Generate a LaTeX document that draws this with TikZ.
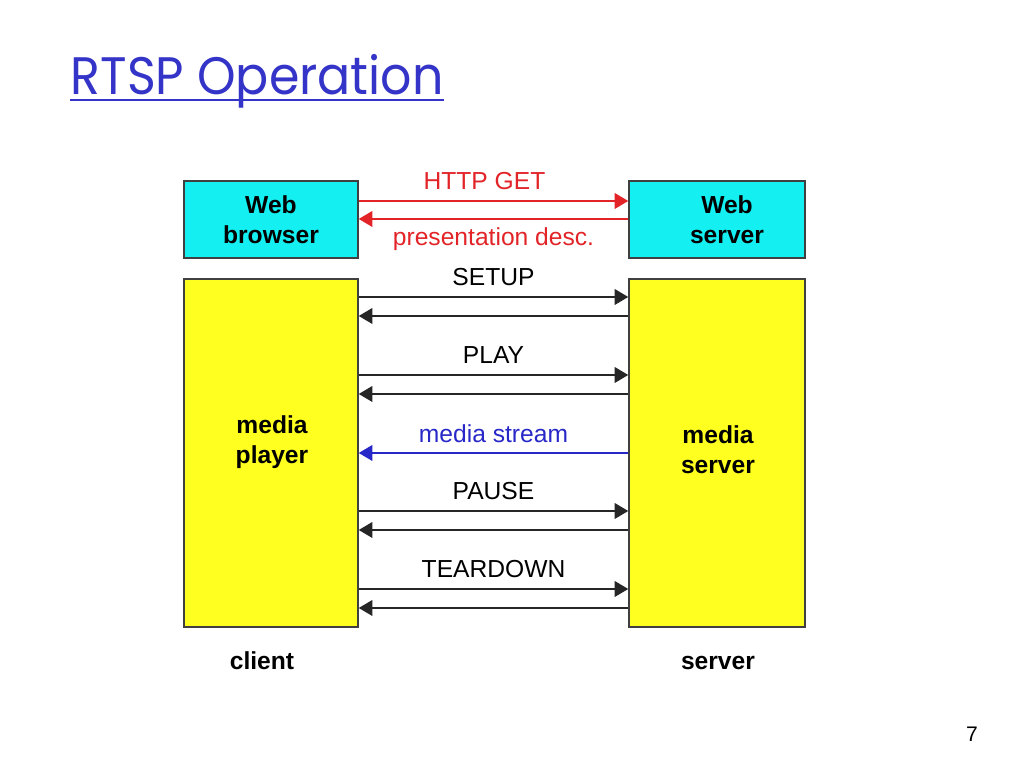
\documentclass[tikz,border=0pt]{standalone}
\usepackage{fontspec}
\setmainfont{Liberation Sans}
\newfontfamily\titlefont{Poppins}
\usetikzlibrary{arrows.meta}
\definecolor{titleblue}{RGB}{52,52,200}
\definecolor{webcyan}{RGB}{20,240,242}
\definecolor{mediayellow}{RGB}{255,255,32}
\definecolor{httpred}{RGB}{226,36,40}
\definecolor{streamblue}{RGB}{40,40,200}

\tikzset{
  box/.style={draw=black!75, line width=0.4pt, minimum width=1.74cm, align=center,
    font=\bfseries\fontsize{7}{8.5}\selectfont},
  msg/.style={-{Triangle[length=3.9pt,width=4.5pt]}, line width=0.45pt, black!85},
  lbl/.style={font=\fontsize{7}{8.5}\selectfont, anchor=base, inner sep=0pt, text=black}
}

\begin{document}
\begin{tikzpicture}[x=0.01cm, y=-0.01cm]
  \useasboundingbox (0,0) rectangle (1024,768);

  % title
  \node[anchor=base west, inner sep=0pt, text=titleblue] (title) at (70,95)
    {\scalebox{0.93}[1]{\titlefont\fontsize{15}{18}\selectfont RTSP Operation}};
  \draw[titleblue, line width=0.7pt] ([yshift=-0.05cm]title.base west) -- ([yshift=-0.05cm]title.base east);

  % boxes
  \node[box, fill=webcyan, minimum height=0.77cm] (browser) at (271,219.5) {Web\\browser};
  \node[box, fill=webcyan, minimum height=0.77cm, minimum width=1.76cm] (webserver) at (717,219.5) {\hspace*{0.2cm}Web\\\hspace*{0.2cm}server};
  \node[box, fill=mediayellow, minimum height=3.48cm] (player) at (271,453) {};
  \node[box, fill=mediayellow, minimum height=3.48cm, minimum width=1.76cm] (server) at (717,453) {};
  \node[box, draw=none, inner sep=0pt] (playertxt) at (272,442) {media\\player};
  \node[box, draw=none, inner sep=0pt] (servertxt) at (718,450) {media\\server};

  % web request
  \coordinate (get) at (0,201);
  \coordinate (desc) at (0,219);
  \draw[msg, httpred] (get -| browser.east) -- node[lbl, text=httpred, yshift=0.11cm, xshift=-0.09cm] {HTTP GET} (get -| webserver.west);
  \draw[msg, httpred] (desc -| webserver.west) -- node[lbl, text=httpred, yshift=-0.26cm] {presentation desc.} (desc -| browser.east);

  % rtsp requests and replies
  \foreach \y/\txt in {297/SETUP, 375/PLAY, 511/PAUSE, 589/TEARDOWN}{
    \coordinate (req) at (0,\y);
    \coordinate (rep) at (0,\y+19);
    \draw[msg] (req -| player.east) -- node[lbl, yshift=0.11cm] {\txt} (req -| server.west);
    \draw[msg] (rep -| server.west) -- (rep -| player.east);
  }

  % stream
  \coordinate (stream) at (0,453);
  \draw[msg, streamblue] (stream -| server.west) -- node[lbl, text=streamblue, yshift=0.10cm] {media stream} (stream -| player.east);

  % sides
  \node[lbl, font=\bfseries\fontsize{7}{8.5}\selectfont] (client) at (262,670) {client};
  \node[lbl, font=\bfseries\fontsize{7}{8.5}\selectfont] (side) at (718,670) {server};

  \node[lbl, font=\fontsize{6}{7}\selectfont] (page) at (972,742) {7};
\end{tikzpicture}
\end{document}
